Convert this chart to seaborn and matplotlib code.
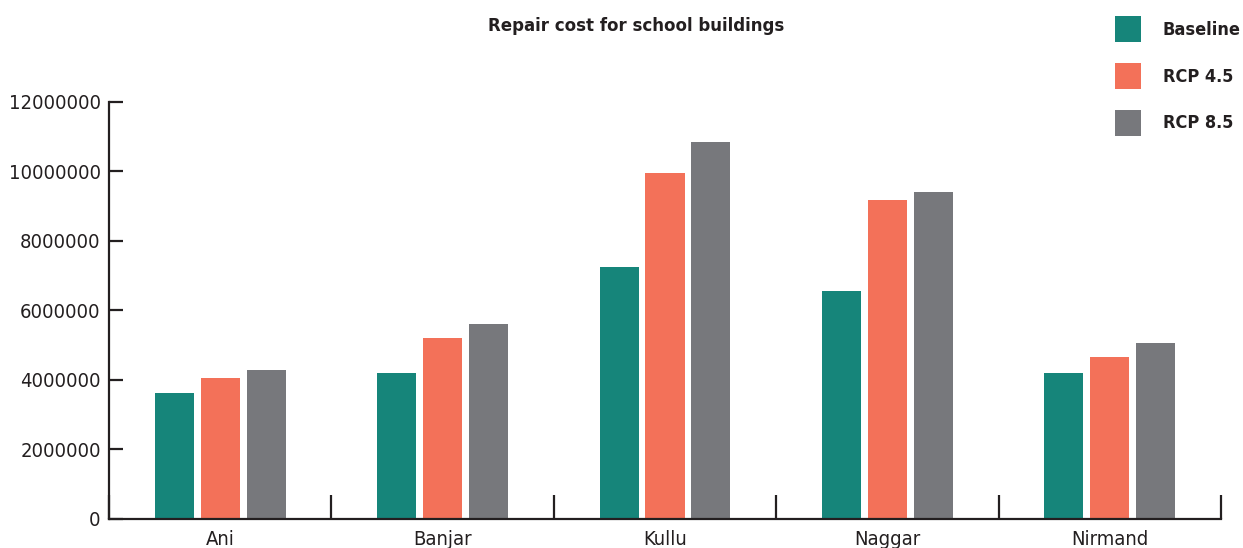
import matplotlib
matplotlib.use("Agg")
import matplotlib.pyplot as plt
import seaborn as sns
import pandas as pd
from matplotlib.ticker import FixedLocator

# Block-level repair cost estimates (INR) for school buildings
blocks = ["Ani", "Banjar", "Kullu", "Naggar", "Nirmand"]
scenarios = ["Baseline", "RCP 4.5", "RCP 8.5"]
baseline = [3620000, 4200000, 7250000, 6560000, 4200000]
rcp45 = [4060000, 5210000, 9950000, 9180000, 4660000]
rcp85 = [4290000, 5610000, 10840000, 9410000, 5070000]
yticks = [0, 2000000, 4000000, 6000000, 8000000, 10000000, 12000000]

palette = ["#16857A", "#F37159", "#77787C"]
ink = "#231F20"

df = pd.DataFrame({
    "block": blocks * 3,
    "scenario": [s for s in scenarios for _ in blocks],
    "cost": baseline + rcp45 + rcp85,
})

sns.set_theme(style="white")
plt.rcParams["font.family"] = ["DejaVu Sans"]
plt.rcParams["font.stretch"] = "condensed"

fig = plt.figure(figsize=(12.43, 5.48), dpi=100)
ax = fig.add_axes([109 / 1243, 1 - 519 / 548, (1221 - 109) / 1243, (519 - 101.7) / 548])

sns.barplot(data=df, x="block", y="cost", hue="scenario", order=blocks,
            hue_order=scenarios, palette=palette, width=0.62, gap=0.15,
            saturation=1, linewidth=0, ax=ax, legend=True)

ax.set_xlim(-0.5, 4.5)
ax.set_ylim(0, 12000000)
ax.set_yticks(yticks)
ax.set_yticklabels([str(v) for v in yticks])
ax.set_xlabel("")
ax.set_ylabel("")

for side in ["top", "right"]:
    ax.spines[side].set_visible(False)
for side in ["left", "bottom"]:
    ax.spines[side].set_color(ink)
    ax.spines[side].set_linewidth(1.6)

ax.tick_params(axis="y", which="major", left=True, direction="in", length=10,
               width=1.6, color=ink, labelsize=14.5, labelcolor=ink, pad=6)
ax.tick_params(axis="x", which="major", bottom=True, length=0, labelsize=14.5,
               labelcolor=ink, pad=8)
ax.xaxis.set_minor_locator(FixedLocator([-0.5, 0.5, 1.5, 2.5, 3.5, 4.5]))
ax.tick_params(axis="x", which="minor", bottom=True, direction="in", length=17,
               width=1.6, color=ink)

handles, labels = ax.get_legend_handles_labels()
ax.get_legend().remove()
leg = fig.legend(handles, labels, loc="upper left",
                 bbox_to_anchor=(1115 / 1243, 1 - 16 / 548),
                 frameon=False, borderpad=0, borderaxespad=0,
                 handlelength=1.45, handleheight=1.84, labelspacing=1.15,
                 handletextpad=1.2, prop={"size": 13, "weight": "bold"})
for t in leg.get_texts():
    t.set_color(ink)

fig.text(636 / 1243, 1 - 26 / 548, "Repair cost for school buildings",
         ha="center", va="center", fontsize=13.3, fontweight="bold", color=ink)

fig.savefig("out.png", dpi=100, facecolor="white")
